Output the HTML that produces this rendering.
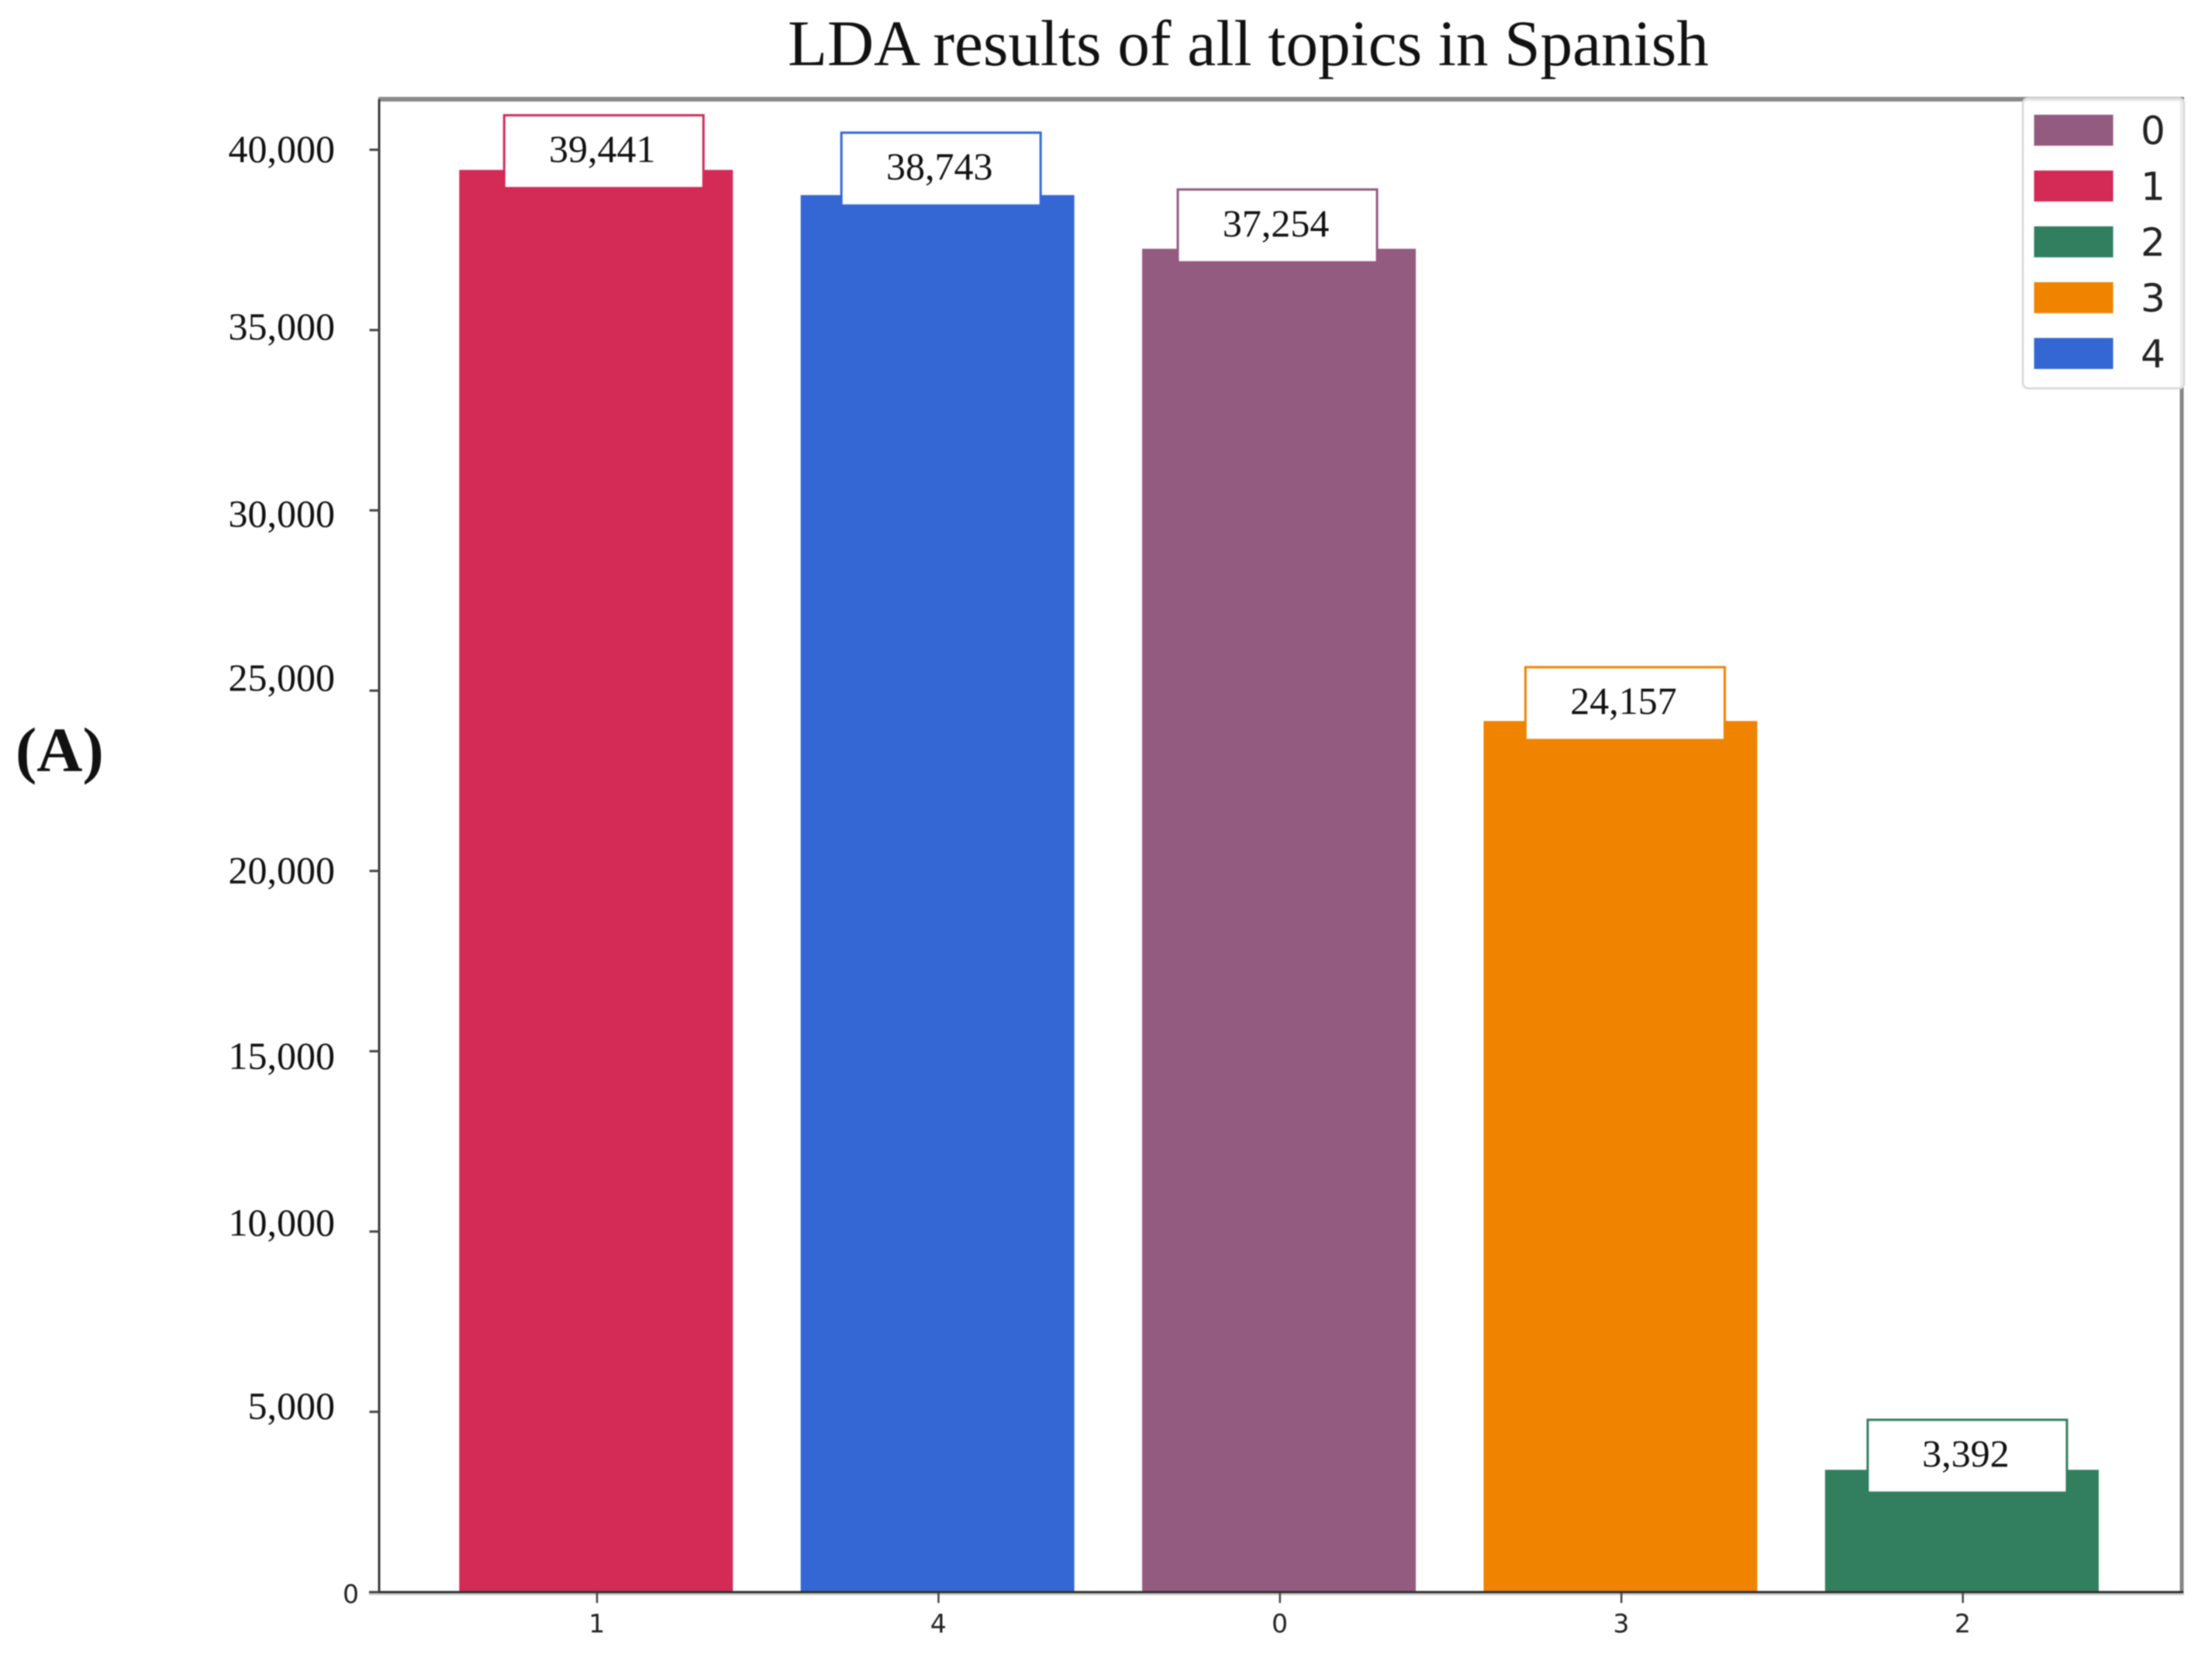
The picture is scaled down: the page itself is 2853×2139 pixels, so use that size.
<!DOCTYPE html>
<html lang="en">
<head>
<meta charset="utf-8">
<title>LDA results of all topics in Spanish</title>
<style>
  html, body { margin: 0; padding: 0; background: #fff; }
  body { width: 2853px; height: 2139px; overflow: hidden; }
  svg { display: block; filter: blur(0.7px); }
  .serif { font-family: "Liberation Serif", "Times New Roman", serif; fill: #111; }
  .sans { font-family: "DejaVu Sans", "Liberation Sans", sans-serif; fill: #222; }
</style>
</head>
<body>
<svg id="chart" xmlns="http://www.w3.org/2000/svg" width="2853" height="2139" viewBox="0 0 2853 2139">
  <rect x="0" y="0" width="2853" height="2139" fill="#ffffff"/>
  <text class="serif" x="1610" y="84" font-size="83.2" text-anchor="middle">LDA results of all topics in Spanish</text>
  <text class="serif" x="20" y="995" font-size="82" font-weight="700" fill="#000">(A)</text>
</svg>
<script>
// Chart data
const categories = ['1', '4', '0', '3', '2'];
const topicValues = [39441, 38743, 37254, 24157, 3392];
const valueLabels = ['39,441', '38,743', '37,254', '24,157', '3,392'];
const yTickValues = [0, 5000, 10000, 15000, 20000, 25000, 30000, 35000, 40000];
const yTickLabels = ['0', '5,000', '10,000', '15,000', '20,000', '25,000', '30,000', '35,000', '40,000'];
const legendLabels = ['0', '1', '2', '3', '4'];

const topicColors = { '0': '#945B80', '1': '#D32A56', '2': '#327F60', '3': '#F08300', '4': '#3467D4' };

const svg = document.getElementById('chart');
const NS = 'http://www.w3.org/2000/svg';

const plot = { left: 489, right: 2814, top: 128, bottom: 2054 };
const pxPerUnit = 0.04652;
const firstCenter = 768.8;
const bandStep = 440.4;
const barWidth = 353;

function yScale(v) { return plot.bottom - v * pxPerUnit; }
function xScale(i) { return firstCenter + i * bandStep; }

function shape(tag, attrs, text) {
  const node = document.createElementNS(NS, tag);
  for (const key in attrs) node.setAttribute(key, attrs[key]);
  if (text !== undefined) node.textContent = text;
  svg.appendChild(node);
  return node;
}

function drawBars() {
  categories.forEach(function (cat, i) {
    const top = yScale(topicValues[i]);
    const bar = shape('rect', {
      x: xScale(i) - barWidth / 2,
      y: top,
      width: barWidth,
      height: plot.bottom - top,
      fill: topicColors[cat]
    });
    
    
  });
}

function drawAxes() {
  const topSpine = shape('rect', { x: plot.left - 1, y: 125, width: plot.right - plot.left + 4, height: 6, fill: '#8a8a8a' });
  
  

  const rightSpine = shape('rect', { x: 2811.5, y: 125, width: 5, height: plot.bottom - 125 + 3, fill: '#858585' });
  
  

  const leftSpine = shape('rect', { x: plot.left - 1.5, y: 128, width: 3, height: plot.bottom - 128 + 2, fill: '#3a3a3a' });
  
  

  const bottomShadow = shape('rect', { x: 476, y: plot.bottom + 1, width: 2341, height: 3, fill: '#cfcfcf' });
  
  

  const bottomSpine = shape('rect', { x: 476, y: plot.bottom - 1.5, width: 2340, height: 3, fill: '#333333' });
  
  

  // The source labels are hand-placed, so each sits slightly off its tick.
  const yLabelNudge = [0, -7, -11, 7, 0, -16, 5, -4, 0];

  yTickValues.forEach(function (v, i) {
    const y = yScale(v);
    const tick = shape('rect', { x: 476.5, y: y - 1.5, width: 12.5, height: 3, fill: '#444444' });
    
    

    const isZero = v === 0;
    const label = shape('text', {
      class: isZero ? 'sans' : 'serif',
      x: isZero ? 463 : 432,
      y: isZero ? y + 14 : y + 16 + yLabelNudge[i],
      'font-size': isZero ? 33 : 50,
      'text-anchor': 'end'
    }, yTickLabels[i]);
    
    
  });

  categories.forEach(function (cat, i) {
    const x = xScale(i) + 1;
    const tick = shape('rect', { x: x - 1, y: plot.bottom + 1, width: 2.5, height: 13, fill: '#444444' });
    
    

    const label = shape('text', { class: 'sans', x: x, y: 2106, 'font-size': 33, 'text-anchor': 'middle' }, cat);
    
    
  });
}

function drawValueLabels() {
  // Hand-placed annotation boxes: horizontal shift and rise relative to each bar top.
  const boxShiftX = [10, 4.5, -2, 6, 7];
  const boxRise = [72, 82, 78, 71, 66];

  categories.forEach(function (cat, i) {
    const cx = xScale(i) + boxShiftX[i];
    const boxTop = yScale(topicValues[i]) - boxRise[i];
    const box = shape('rect', {
      x: cx - 128.5,
      y: boxTop + 1.5,
      width: 257,
      height: 94,
      fill: '#ffffff',
      stroke: topicColors[cat],
      'stroke-width': 3
    });
    
    

    const label = shape('text', {
      class: 'serif',
      x: cx - 2,
      y: boxTop + 62,
      'font-size': 50,
      'text-anchor': 'middle'
    }, valueLabels[i]);
    
    
  });
}

function drawLegend() {
  const frame = shape('rect', {
    x: 2609, y: 127, width: 208, height: 374, rx: 7, ry: 7,
    fill: '#ffffff', 'fill-opacity': 0.85, stroke: '#dcdcdc', 'stroke-width': 3
  });
  
  

  legendLabels.forEach(function (name, i) {
    const rowY = 148 + i * 72;
    const swatch = shape('rect', { x: 2623.5, y: rowY, width: 102, height: 40, fill: topicColors[name] });
    
    

    const label = shape('text', { class: 'sans', x: 2761, y: rowY + 38, 'font-size': 50 }, name);
    
    
  });
}

drawBars();
drawAxes();
drawValueLabels();
drawLegend();
</script>
</body>
</html>
